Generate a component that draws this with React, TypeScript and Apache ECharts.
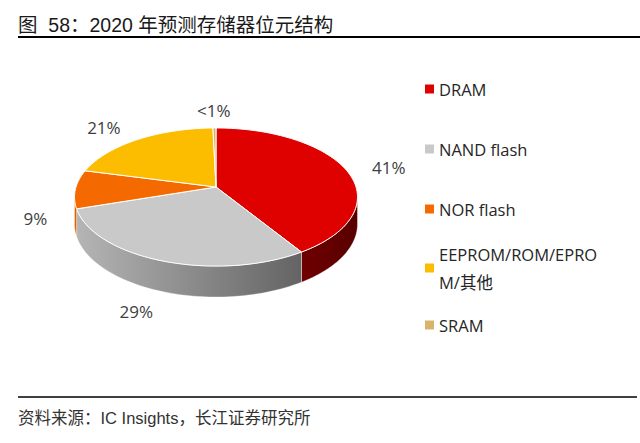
import { useRef, useEffect } from 'react'
import * as echarts from 'echarts'

const categories = ['DRAM', 'NAND flash', 'NOR flash', 'EEPROM/ROM/EPROM/其他', 'SRAM']
const legendLabels = ['DRAM', 'NAND flash', 'NOR flash', 'EEPROM/ROM/EPRO\nM/其他', 'SRAM']
const shares = [41, 29, 9, 20.6, 0.4]
const shareLabels = ['41%', '29%', '9%', '21%', '<1%']
const colors = ['#df0000', '#c9c9c9', '#f46a00', '#fcbd00', '#d9b36c']

// tilted pie with a little perspective
const CX = 216
const CY = 187
const RX = 140
const RY = 67.6
const DEPTH = 26.5
const PERSP = 0.145

const LABEL_FONT = "'Open Sans', 'Noto Sans CJK SC', sans-serif"
const TITLE_FONT = "'Liberation Sans', 'Noto Sans CJK SC', sans-serif"

function project(t: number, h: number) {
  const u = Math.sin(t)
  const v = -Math.cos(t)
  const d = 1 - PERSP * v
  return [CX + (RX * u) / d, CY + (RY * v) / d + (h * DEPTH) / d]
}

function shade(hex: string, f: number) {
  const n = parseInt(hex.slice(1), 16)
  const r = Math.round(((n >> 16) & 255) * f)
  const g = Math.round(((n >> 8) & 255) * f)
  const b = Math.round((n & 255) * f)
  return `rgb(${r},${g},${b})`
}

function App() {
  const chartRef = useRef<HTMLDivElement>(null)

  useEffect(() => {
    if (!chartRef.current) return
    const myChart = echarts.init(chartRef.current, null, { renderer: 'svg' })

    const total = shares.reduce((a, b) => a + b, 0)
    const starts: number[] = []
    let acc = 0
    shares.forEach((v) => {
      starts.push((acc / total) * Math.PI * 2)
      acc += v
    })
    // silhouette of the side wall
    const sil0 = Math.acos(-PERSP)
    const sil1 = Math.PI * 2 - sil0

    const series = categories.map((name, i) => ({
      name,
      type: 'custom',
      coordinateSystem: 'none',
      itemStyle: { color: colors[i] },
      data: [shares[i]],
      renderItem: () => {
        const a0 = starts[i]
        const a1 = a0 + (shares[i] / total) * Math.PI * 2
        const children: any[] = []

        const s0 = Math.max(a0, sil0)
        const s1 = Math.min(a1, sil1)
        if (s1 > s0) {
          const top: number[][] = []
          const bottom: number[][] = []
          const n = 60
          for (let k = 0; k <= n; k++) {
            const t = s0 + ((s1 - s0) * k) / n
            top.push(project(t, 0))
            bottom.unshift(project(t, 1))
          }
          children.push({
            type: 'polygon',
            shape: { points: top.concat(bottom) },
            style: {
              fill: new echarts.graphic.LinearGradient(
                CX - RX, 0, CX + RX, 0,
                [
                  { offset: 0, color: shade(colors[i], 0.9) },
                  { offset: 1, color: shade(colors[i], 0.4) },
                ],
                true
              ),
              stroke: 'rgba(255,255,255,0.55)',
              lineWidth: 0.7,
            },
          })
        }

        // top face
        const face: number[][] = [[CX, CY]]
        const m = Math.max(2, Math.ceil((a1 - a0) * 40))
        for (let k = 0; k <= m; k++) {
          face.push(project(a0 + ((a1 - a0) * k) / m, 0))
        }
        children.push({
          type: 'polygon',
          shape: { points: face },
          style: { fill: colors[i], stroke: '#ffffff', lineWidth: 1 },
        })

        // percentage label, placed outside the rim
        const mid = (a0 + a1) / 2
        const c = Math.cos(mid)
        const lx = CX + 180 * Math.sin(mid) - 20 * Math.max(0, -c)
        const ly = c < 0 ? CY + 28 - 103 * c : CY + 3 - 80 * c
        children.push({
          type: 'text',
          x: lx,
          y: ly,
          style: {
            text: shareLabels[i],
            fontSize: 17,
            fontFamily: LABEL_FONT,
            fill: '#404040',
            align: 'center',
            verticalAlign: 'middle',
          },
        })

        return { type: 'group', children }
      },
    }))

    const legendCommon = {
      orient: 'vertical',
      left: 425,
      padding: 0,
      icon: 'rect',
      itemWidth: 9,
      itemHeight: 9,
      selectedMode: false,
      formatter: (name: string) => legendLabels[categories.indexOf(name)],
      textStyle: { fontSize: 16.5, lineHeight: 28, color: '#262626', fontFamily: LABEL_FONT },
    }

    const option = {
      animation: false,
      title: {
        text: '图  58：2020 年预测存储器位元结构',
        left: 18,
        top: 14,
        padding: 0,
        textStyle: { fontSize: 19.5, lineHeight: 22, fontWeight: 'normal', color: '#1a1a1a', fontFamily: TITLE_FONT },
      },
      legend: [
        { ...legendCommon, data: categories.slice(0, 3), top: 75, itemGap: 32 },
        {
          ...legendCommon,
          data: [{ name: categories[3], textStyle: { padding: [28, 0, 0, 0] } }],
          top: 226,
        },
        { ...legendCommon, data: [categories[4]], top: 311 },
      ],
      graphic: [
        { type: 'line', shape: { x1: 18, y1: 37, x2: 640, y2: 37 }, style: { stroke: '#000', lineWidth: 2 } },
        { type: 'line', shape: { x1: 18, y1: 397, x2: 637, y2: 397 }, style: { stroke: '#000', lineWidth: 1.5 } },
        {
          type: 'text',
          x: 18,
          y: 418,
          style: {
            text: '资料来源：IC Insights，长江证券研究所',
            fontSize: 16.5,
            fontFamily: TITLE_FONT,
            fill: '#333333',
            verticalAlign: 'middle',
          },
        },
      ],
      series,
    }
    myChart.setOption(option as any)

    const handleResize = () => {
      myChart.resize()
    }
    window.addEventListener('resize', handleResize)

    return () => {
      window.removeEventListener('resize', handleResize)
      myChart.dispose()
    }
  }, [])

  return (
    <div
      ref={chartRef}
      style={{ position: 'fixed', left: 0, top: 0, width: '640px', height: '443px', background: '#fff' }}
    ></div>
  )
}

export default App
